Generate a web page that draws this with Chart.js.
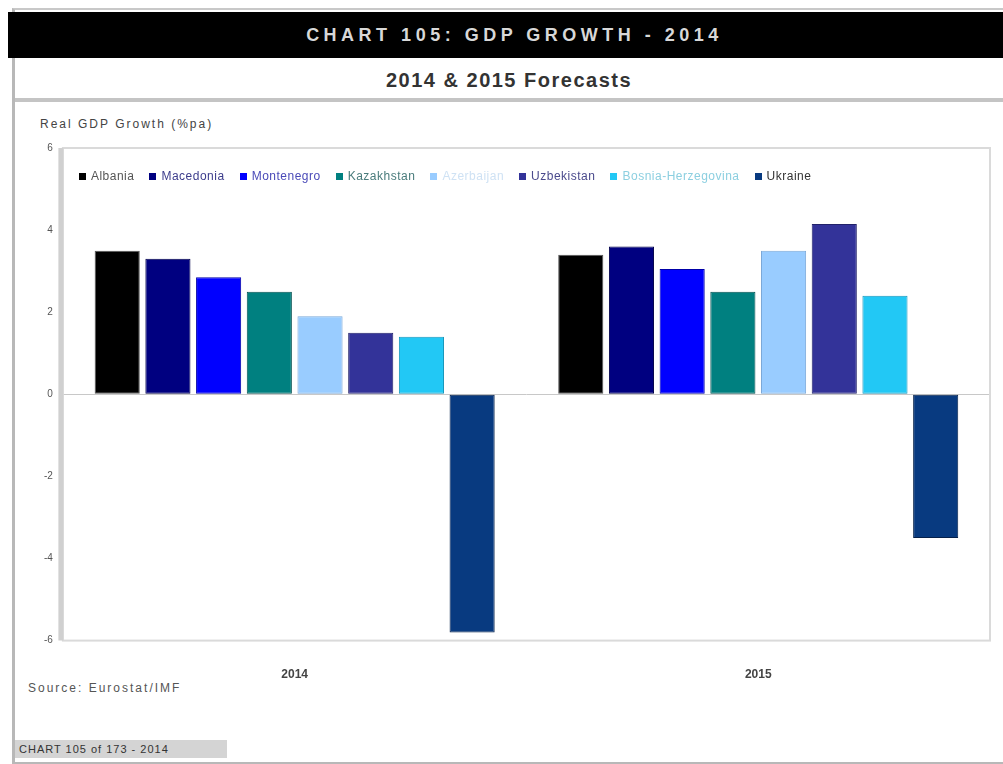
<!DOCTYPE html>
<html lang="en">
<head>
    <meta charset="UTF-8">
    <title>GDP Growth - 2014</title>
    <script src="https://cdn.jsdelivr.net/npm/chart.js@4.4.1/dist/chart.umd.min.js"></script>
    <style>
        html, body { margin: 0; padding: 0; background: #fff; }
        body { width: 1003px; height: 764px; position: relative; overflow: hidden;
               font-family: "Liberation Sans", Arial, sans-serif; }
        #frame { position: absolute; left: 12px; top: 8px; width: 989px; height: 752px;
                 border-left: 3px solid #b8b8b8; border-bottom: 3px solid #b8b8b8; border-top: 2px solid #c8c8c8; }
        #titleBar { position: absolute; left: 8px; top: 12px; width: 995px; height: 46px; background: #000;
                    color: #d8d8d8; font-weight: bold; font-size: 18px; letter-spacing: 4.5px;
                    text-align: center; line-height: 46px; text-indent: 18px; }
        #subTitle { position: absolute; left: 15px; top: 62px; width: 988px; height: 36px;
                    font-weight: bold; font-size: 20px; color: #333; text-align: center; line-height: 36px;
                    letter-spacing: 1.5px; border-bottom: 4px solid #c4c4c4; }
        #yTitle { position: absolute; left: 40px; top: 117px; font-size: 12px; color: #444; letter-spacing: 2px; }
        #source { position: absolute; left: 28px; top: 681px; font-size: 12px; color: #555; letter-spacing: 2px; }
        #footer { position: absolute; left: 15px; top: 740px; width: 208px; height: 18px; background: #d4d4d4;
                  font-size: 11px; color: #333; line-height: 18px; padding-left: 4px; letter-spacing: 1px; }
        #chartBox { position: absolute; left: 0; top: 130px; width: 1003px; height: 591px; }
        #legend { position: absolute; display: flex; align-items: center; font-size: 12px;
                  letter-spacing: 0.5px; white-space: nowrap; }
        #legend .item { display: flex; align-items: center; margin-right: 15px; }
        #legend .box { width: 7px; height: 7px; margin-right: 5px; }
    </style>
</head>
<body>
<div id="frame"></div>
<div id="titleBar">CHART 105: GDP GROWTH - 2014</div>
<div id="subTitle">2014 &amp; 2015 Forecasts</div>
<div id="yTitle">Real GDP Growth (%pa)</div>
<div id="source">Source: Eurostat/IMF</div>
<div id="footer">CHART 105 of 173 - 2014</div>
<div id="chartBox"><canvas id="gdpChart"></canvas></div>
<div id="legend"></div>
<script>
    // forecast years on the x axis
    const years = ['2014', '2015'];

    const countries = ['Albania', 'Macedonia', 'Montenegro', 'Kazakhstan', 'Azerbaijan',
        'Uzbekistan', 'Bosnia-Herzegovina', 'Ukraine'];
    const barColors = ['#000000', '#000080', '#0000ff', '#008080', '#99ccff',
        '#333399', '#22c8f5', '#083a80'];
    const edgeColors = ['#555555', '#00004a', '#0000a8', '#005050', '#7aa8d8',
        '#22226a', '#1596bb', '#05204a'];
    const legendText = ['#555555', '#3c3c8c', '#4a4ab8', '#4a7c7c', '#cfe2f4',
        '#4a4a8c', '#8ccfe0', '#333333'];

    // real GDP growth, % per annum
    const growth2014 = [3.5, 3.3, 2.85, 2.5, 1.9, 1.5, 1.4, -5.8];
    const growth2015 = [3.4, 3.6, 3.05, 2.5, 3.5, 4.15, 2.4, -3.5];

    const yTicks = [6, 4, 2, 0, -2, -4, -6];

    let datasets = countries.map(function (name, i) {
        return {
            label: name,
            data: [growth2014[i], growth2015[i]],
            backgroundColor: barColors[i],
            borderColor: edgeColors[i],
            borderWidth: 1,
            borderSkipped: false,
            categoryPercentage: 0.875,
            barPercentage: 0.89
        };
    });

    // light frame round the plot area, heavier on the left
    const plotFrame = {
        id: 'plotFrame',
        beforeDatasetsDraw(chart) {
            const a = chart.chartArea;
            const ctx = chart.ctx;
            ctx.save();
            ctx.strokeStyle = '#dadada';
            ctx.lineWidth = 2;
            ctx.strokeRect(a.left, a.top, a.right - a.left, a.bottom - a.top);
            ctx.strokeStyle = '#d0d0d0';
            ctx.lineWidth = 5;
            ctx.beginPath();
            ctx.moveTo(a.left - 2, a.top);
            ctx.lineTo(a.left - 2, a.bottom);
            ctx.stroke();
            ctx.restore();
        }
    };

    let ctx = document.getElementById('gdpChart').getContext('2d');
    let gdpChart = new Chart(ctx, {
        type: 'bar',
        data: {
            labels: years,
            datasets: datasets
        },
        options: {
            responsive: true,
            maintainAspectRatio: false,
            animation: false,
            layout: {
                padding: {left: 34, right: 13, top: 18, bottom: 20}
            },
            scales: {
                x: {
                    grid: {display: false},
                    border: {display: false},
                    ticks: {
                        color: '#444',
                        font: {family: 'Liberation Sans', size: 12, weight: 'bold'},
                        padding: 19
                    }
                },
                y: {
                    min: -6,
                    max: 6,
                    afterBuildTicks: function (axis) {
                        axis.ticks = yTicks.map(function (v) { return {value: v}; });
                    },
                    grid: {
                        drawTicks: false,
                        color: function (c) {
                            return c.tick && c.tick.value === 0 ? '#c8c8c8' : 'rgba(0,0,0,0)';
                        }
                    },
                    border: {display: false},
                    ticks: {
                        color: '#555',
                        font: {family: 'Liberation Sans', size: 10},
                        padding: 10
                    }
                }
            },
            plugins: {
                legend: {display: false},
                tooltip: {enabled: false}
            }
        },
        plugins: [plotFrame]
    });

    // legend row sits inside the top of the plot area
    {
        let legend = document.getElementById('legend');
        let area = gdpChart.chartArea;
        let box = document.getElementById('chartBox');
        legend.style.left = (box.offsetLeft + area.left + 16) + 'px';
        legend.style.top = (box.offsetTop + area.top + 21) + 'px';
        gdpChart.data.datasets.forEach(function (ds, i) {
            let item = document.createElement('div');
            item.className = 'item';
            let sw = document.createElement('span');
            sw.className = 'box';
            sw.style.background = barColors[i];
            let tx = document.createElement('span');
            tx.textContent = ds.label;
            tx.style.color = legendText[i];
            item.appendChild(sw);
            item.appendChild(tx);
            legend.appendChild(item);
        });
    }
</script>
</body>
</html>
